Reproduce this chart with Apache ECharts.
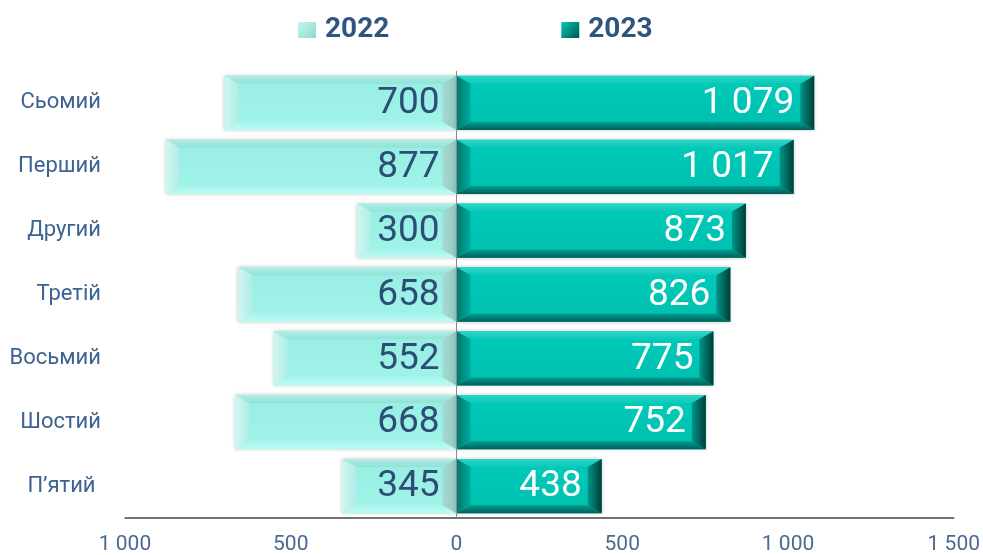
<!DOCTYPE html>
<html>
<head>
<meta charset="utf-8">
<script src="https://cdn.jsdelivr.net/npm/echarts@6/dist/echarts.min.js"></script>
<style>
  html, body { margin: 0; padding: 0; background: #fff; }
  #chart { width: 983px; height: 555px; }
</style>
</head>
<body>
<div id="chart"></div>
<script>
const categories = ['Сьомий', 'Перший', 'Другий', 'Третій', 'Восьмий', 'Шостий', 'П’ятий '];
const values2022 = [700, 877, 300, 658, 552, 668, 345];
const values2023 = [1079, 1017, 873, 826, 775, 752, 438];
const xTicks = [-1000, -500, 0, 500, 1000, 1500];

const chart = echarts.init(document.getElementById('chart'));

// number with a space as thousands separator
function fmt(v) {
    return String(Math.abs(v)).replace(/\B(?=(\d{3})+(?!\d))/g, ' ');
}

function lin(x, y, x2, y2, c1, c2) {
    return new echarts.graphic.LinearGradient(x, y, x2, y2, [
        { offset: 0, color: c1 }, { offset: 1, color: c2 }
    ]);
}

// bevel palettes
const pal = {
    '2022': {
        face: lin(0, 0, 0, 1, '#98eee3', '#a0f3e9'),
        top: lin(0, 0, 0, 1, '#b3ece5', '#8fe3d8'),
        bottom: lin(0, 0, 0, 1, '#a6f6ec', '#bdfbf4'),
        left: lin(0, 0, 1, 0, '#d2f6f2', '#aeede5'),
        right: lin(0, 0, 1, 0, '#a3dcd4', '#93c4bd'),
        text: '#2d4e74',
        pad: 17
    },
    '2023': {
        face: lin(0, 0, 0, 1, '#00cbba', '#00bfae'),
        top: lin(0, 0, 0, 1, '#2ad6c7', '#0cc9b9'),
        bottom: lin(0, 0, 0, 1, '#009e91', '#005e56'),
        left: lin(0, 0, 1, 0, '#00796f', '#00a99b'),
        right: lin(0, 0, 1, 0, '#00958a', '#003d37'),
        text: '#ffffff',
        pad: 20
    }
};

function makeRender(name) {
    const p = pal[name];
    return function (params, api) {
        const cat = api.value(0);
        const val = api.value(1);
        const a = api.coord([0, cat]);
        const b = api.coord([val, cat]);
        const h = api.size([0, 1])[1] * 0.85;
        const x0 = Math.min(a[0], b[0]);
        const x1 = Math.max(a[0], b[0]);
        const y0 = a[1] - h / 2;
        const y1 = a[1] + h / 2;
        const bx = 14, by = 8;
        const poly = (pts, fill) => ({ type: 'polygon', shape: { points: pts }, style: { fill: fill } });
        return {
            type: 'group',
            children: [
                {
                    type: 'rect',
                    shape: { x: x0, y: y0, width: x1 - x0, height: h },
                    style: { fill: p.face, shadowBlur: 4, shadowColor: 'rgba(0,0,0,0.22)' }
                },
                poly([[x0, y0], [x1, y0], [x1 - bx, y0 + by], [x0 + bx, y0 + by]], p.top),
                poly([[x0, y1], [x1, y1], [x1 - bx, y1 - by], [x0 + bx, y1 - by]], p.bottom),
                poly([[x0, y0], [x0 + bx, y0 + by], [x0 + bx, y1 - by], [x0, y1]], p.left),
                poly([[x1, y0], [x1 - bx, y0 + by], [x1 - bx, y1 - by], [x1, y1]], p.right),
                {
                    type: 'text',
                    style: {
                        x: x1 - p.pad,
                        y: a[1] + 1,
                        text: fmt(val),
                        fill: p.text,
                        font: '37px Roboto',
                        align: 'right',
                        verticalAlign: 'middle'
                    }
                }
            ]
        };
    };
}

const option = {
    animation: false,
    legend: {
        top: 11,
        left: 293,
        itemWidth: 18,
        itemHeight: 16,
        itemGap: 172,
        icon: 'rect',
        textStyle: {
            fontFamily: 'Roboto',
            fontSize: 28,
            fontWeight: 'bold',
            color: '#2e5580',
            padding: [0, 0, 0, 4]
        },
        data: [
            { name: '2022', itemStyle: { color: lin(0, 0, 1, 1, '#c8f5f0', '#8ed9cf') } },
            { name: '2023', itemStyle: { color: lin(0, 0, 1, 1, '#00c8b7', '#00574f') } }
        ]
    },
    grid: { left: 125, right: 28, top: 71, bottom: 34 },
    xAxis: {
        type: 'value',
        min: xTicks[0],
        max: xTicks[xTicks.length - 1],
        interval: 500,
        splitLine: { show: false },
        axisTick: { show: false },
        axisLine: { show: true, lineStyle: { color: '#444', width: 1.5 } },
        axisLabel: {
            margin: 16,
            fontFamily: 'Roboto',
            fontSize: 21,
            color: '#4a6b91',
            formatter: v => fmt(v)
        }
    },
    yAxis: {
        type: 'category',
        data: categories,
        inverse: true,
        axisLine: { show: false },
        axisTick: { show: false },
        axisLabel: {
            margin: 24,
            fontFamily: 'Roboto',
            fontSize: 22,
            color: '#3d6390'
        }
    },
    series: [
        {
            name: '2022',
            type: 'custom',
            itemStyle: { color: '#9cf0e6' },
            encode: { x: 1, y: 0 },
            renderItem: makeRender('2022'),
            data: values2022.map((v, i) => [i, -v])
        },
        {
            name: '2023',
            type: 'custom',
            itemStyle: { color: '#00c4b3' },
            encode: { x: 1, y: 0 },
            renderItem: makeRender('2023'),
            data: values2023.map((v, i) => [i, v]),
            markLine: {
                silent: true,
                symbol: 'none',
                label: { show: false },
                lineStyle: { color: '#8c8c8c', width: 1, type: 'solid' },
                data: [{ xAxis: 0 }]
            }
        }
    ]
};

chart.setOption(option);
</script>
</body>
</html>
